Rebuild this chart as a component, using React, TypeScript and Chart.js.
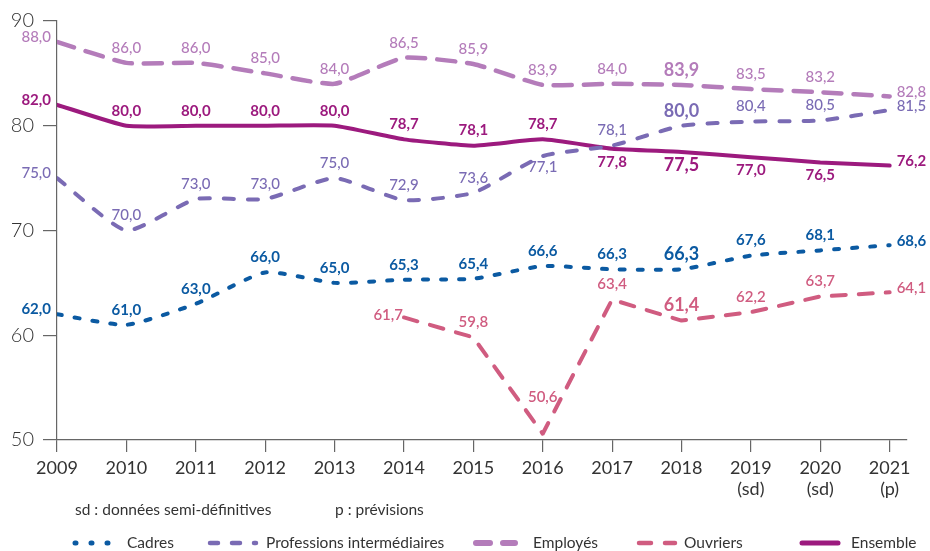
import React, { useEffect, useRef } from "react";
import { Chart, registerables } from "chart.js";

Chart.register(...registerables);

const years = [2009, 2010, 2011, 2012, 2013, 2014, 2015, 2016, 2017, 2018, 2019, 2020, 2021];
const tickLabels: (string | string[])[] = [
  "2009", "2010", "2011", "2012", "2013", "2014", "2015", "2016", "2017", "2018",
  ["2019", "(sd)"], ["2020", "(sd)"], ["2021", "(p)"],
];
const yTicks = [50, 60, 70, 80, 90];

const cadres = [62.0, 61.0, 63.0, 66.0, 65.0, 65.3, 65.4, 66.6, 66.3, 66.3, 67.6, 68.1, 68.6];
const professions = [75.0, 70.0, 73.0, 73.0, 75.0, 72.9, 73.6, 77.1, 78.1, 80.0, 80.4, 80.5, 81.5];
const employes = [88.0, 86.0, 86.0, 85.0, 84.0, 86.5, 85.9, 83.9, 84.0, 83.9, 83.5, 83.2, 82.8];
const ouvriers = [null, null, null, null, null, 61.7, 59.8, 50.6, 63.4, 61.4, 62.2, 63.7, 64.1];
const ensemble = [82.0, 80.0, 80.0, 80.0, 80.0, 78.7, 78.1, 78.7, 77.8, 77.5, 77.0, 76.5, 76.2];

const seriesNames = ["Cadres", "Professions intermédiaires", "Employés", "Ouvriers", "Ensemble"];
const footnotes = ["sd : données semi-définitives", "p : prévisions"];

const FONT = "Lato, 'Noto Sans', sans-serif";

type Style = {
  color: string;
  dash: number[];
  width: number;
  tension: number;
  weight: number;
  legendDash: number[];
  legendWidth: number;
  legendX: [number, number];
  textX: number;
  placement: Record<number, [string, number?]>;
};

const styles: Style[] = [
  { color: "#0b5aa2", dash: [5, 13], width: 4, tension: 0.18, weight: 700, legendDash: [1, 15], legendWidth: 5, legendX: [75, 109], textX: 127, placement: {} },
  { color: "#7a6bb4", dash: [10, 14], width: 4, tension: 0.18, weight: 500, legendDash: [8, 14], legendWidth: 4.5, legendX: [210, 256], textX: 266, placement: { 7: ["below", 11] } },
  { color: "#b47cba", dash: [18, 12], width: 4.5, tension: 0.15, weight: 500, legendDash: [14, 13], legendWidth: 6, legendX: [476, 515], textX: 533, placement: {} },
  { color: "#d05c80", dash: [14, 13], width: 4, tension: 0, weight: 600, legendDash: [12, 14], legendWidth: 4.5, legendX: [639, 675], textX: 684, placement: { 5: ["leftclose"], 7: ["above", 37] } },
  { color: "#9c1a7e", dash: [], width: 4, tension: 0.15, weight: 700, legendDash: [], legendWidth: 5, legendX: [802, 838], textX: 851, placement: { 8: ["below", 13], 9: ["below", 13], 10: ["below", 13], 11: ["below", 13] } },
];

const seriesData = [cadres, professions, employes, ouvriers, ensemble];

const fmt = (v: number) => v.toFixed(1).replace(".", ",");

const labelPlugin = {
  id: "pointLabels",
  afterDatasetsDraw(chart: any) {
    const ctx = chart.ctx;
    ctx.save();
    seriesData.forEach((arr, si) => {
      const meta = chart.getDatasetMeta(si);
      const st = styles[si];
      arr.forEach((v, i) => {
        if (v == null) return;
        const el = meta.data[i];
        if (!el) return;
        const bold = years[i] === 2018;
        ctx.font = `${bold ? 700 : st.weight} ${bold ? 18 : 15}px ${FONT}`;
        ctx.fillStyle = st.color;
        ctx.textBaseline = "middle";
        let mode: string = "above";
        let off = 15;
        if (i === 0) mode = "left";
        if (i === arr.length - 1) mode = "right";
        const p = st.placement[i];
        if (p) {
          mode = p[0];
          if (p[1] != null) off = p[1];
        }
        let x = el.x;
        let y = el.y;
        if (mode === "above") {
          ctx.textAlign = "center";
          y -= off;
        } else if (mode === "below") {
          ctx.textAlign = "center";
          y += off;
        } else if (mode === "left") {
          ctx.textAlign = "right";
          x -= 6;
          y -= 5;
        } else if (mode === "leftclose") {
          ctx.textAlign = "right";
          x -= 1;
          y -= 2;
        } else if (mode === "right") {
          ctx.textAlign = "left";
          x += 7;
          y -= 4;
        }
        ctx.fillText(fmt(v), x, y);
      });
    });
    ctx.restore();
  },
  afterDraw(chart: any) {
    const ctx = chart.ctx;
    ctx.save();
    ctx.fillStyle = "#333";
    ctx.textBaseline = "middle";
    ctx.textAlign = "left";
    ctx.font = `400 15.5px ${FONT}`;
    ctx.fillText(footnotes[0], 75, 510);
    ctx.fillText(footnotes[1], 335, 510);
    const ly = 543;
    styles.forEach((st, si) => {
      ctx.beginPath();
      ctx.strokeStyle = st.color;
      ctx.lineWidth = st.legendWidth;
      ctx.lineCap = "round";
      ctx.setLineDash(st.legendDash);
      ctx.moveTo(st.legendX[0], ly);
      ctx.lineTo(st.legendX[1], ly);
      ctx.stroke();
      ctx.setLineDash([]);
      ctx.fillStyle = "#333";
      ctx.font = `400 15.5px ${FONT}`;
      ctx.fillText(seriesNames[si], st.textX, ly);
    });
    ctx.restore();
  },
};

export default function App() {
  const ref = useRef<HTMLCanvasElement | null>(null);
  useEffect(() => {
    if (!ref.current) return;
    const chart = new Chart(ref.current, {
      type: "line",
      data: {
        datasets: seriesData.map((arr, si) => ({
          label: seriesNames[si],
          data: arr.map((v, i) => ({ x: years[i], y: v })) as any,
          borderColor: styles[si].color,
          backgroundColor: styles[si].color,
          borderWidth: styles[si].width,
          borderDash: styles[si].dash,
          borderCapStyle: "round",
          borderJoinStyle: "round",
          tension: styles[si].tension,
          pointRadius: 0,
          pointHoverRadius: 0,
          spanGaps: false,
          fill: false,
        })),
      },
      options: {
        animation: false,
        responsive: true,
        maintainAspectRatio: false,
        events: [],
        layout: { padding: { top: 21, right: 23, left: 0, bottom: 0 } },
        plugins: {
          legend: { display: false },
          tooltip: { enabled: false },
        },
        scales: {
          x: {
            type: "linear",
            min: 2009,
            max: 2021.25,
            afterBuildTicks: (scale: any) => {
              scale.ticks = years.map((v) => ({ value: v }));
            },
            afterFit: (scale: any) => {
              scale.height = 111;
            },
            ticks: {
              autoSkip: false,
              maxRotation: 0,
              padding: 5,
              color: "#333",
              font: { family: FONT, size: 18 },
              callback: (v: any) => {
                const i = years.indexOf(Number(v));
                return i >= 0 ? tickLabels[i] : "";
              },
            },
            grid: {
              drawOnChartArea: false,
              drawTicks: true,
              tickLength: 12,
              color: "#666",
              lineWidth: 1.2,
            },
            border: { display: true, color: "#666", width: 1.2 },
          },
          y: {
            min: 50,
            max: 90,
            afterBuildTicks: (scale: any) => {
              scale.ticks = yTicks.map((v) => ({ value: v }));
            },
            afterFit: (scale: any) => {
              scale.width = 57;
            },
            ticks: {
              padding: 9,
              color: "#333",
              font: { family: FONT, size: 20, weight: 300 as any },
            },
            grid: {
              drawOnChartArea: false,
              drawTicks: true,
              tickLength: 14,
              color: "#666",
              lineWidth: 1.2,
            },
            border: { display: true, color: "#666", width: 1.2 },
          },
        },
      },
      plugins: [labelPlugin],
    });
    return () => chart.destroy();
  }, []);
  return (
    <div style={{ position: "fixed", left: 0, top: 0, width: 930, height: 551, background: "#fff" }}>
      <canvas ref={ref} />
    </div>
  );
}
